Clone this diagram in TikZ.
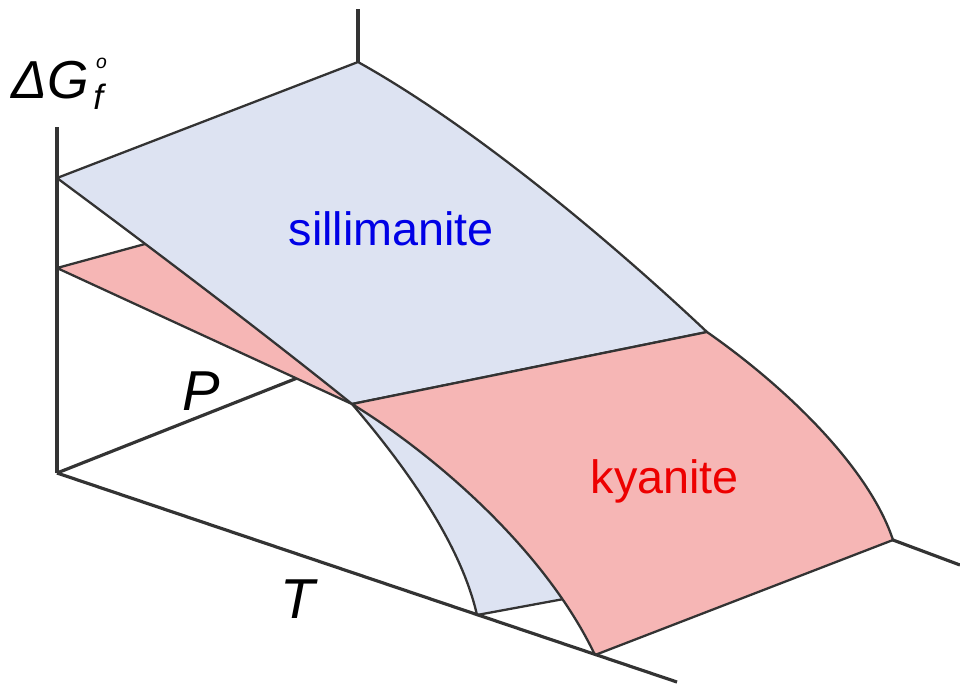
\documentclass[tikz,border=0pt]{standalone}
\usepackage{fontspec}
\setmainfont{Liberation Sans}
\definecolor{sillfill}{RGB}{221,227,242}
\definecolor{kyanfill}{RGB}{246,182,181}
\definecolor{linegray}{RGB}{51,51,51}
\definecolor{silltext}{RGB}{0,0,230}
\definecolor{kyantext}{RGB}{237,0,0}
\begin{document}
\begin{tikzpicture}[x=0.01cm,y=-0.01cm,
    axis/.style={linegray,line width=0.9pt},
    edge/.style={linegray,line width=0.65pt,line join=round},
    axlabel/.style={inner sep=0pt,anchor=base west,font=\fontsize{16}{16}\selectfont\itshape},
    mineral/.style={inner sep=0pt,anchor=base west,font=\fontsize{13.3}{13.3}\selectfont}]
    \useasboundingbox (0,0) rectangle (960,684);
    % corners of the box and the surfaces
    \coordinate (O) at (57,473);
    \coordinate (Pb) at (358,354);
    \coordinate (S0) at (57,178);
    \coordinate (S1) at (358,62);
    \coordinate (S2) at (707,332);
    \coordinate (Sb) at (477,615);
    \coordinate (K0) at (57,268);
    \coordinate (K2) at (893,540);
    \coordinate (K3) at (595,655);
    \coordinate (J) at (352,404);
    % back axes (mostly hidden by the surfaces)
    \draw[axis] (O) -- (Pb);
    \draw[axis] (Pb) -- (358,9);
    \draw[axis] (Pb) -- (K2) -- (960,565);
    % kyanite, thin strip near the G axis
    \filldraw[edge,fill=kyanfill] (K0) -- (200,229) -- (J) -- cycle;
    % sillimanite, upper part
    \filldraw[edge,fill=sillfill] (S0) -- (S1) .. controls (480,130) and (620,250) .. (S2)
        -- (J) .. controls (260,330) and (150,247) .. (S0) -- cycle;
    % sillimanite, lower part (runs on under kyanite)
    \filldraw[edge,fill=sillfill] (J) .. controls (400,460) and (460,540) .. (Sb)
        -- (580,596) -- (560,480) -- cycle;
    % kyanite, main part
    \filldraw[edge,fill=kyanfill] (J) -- (S2) .. controls (790,390) and (870,470) .. (K2)
        -- (K3) .. controls (545,550) and (435,455) .. (J) -- cycle;
    % front axes
    \draw[axis] (O) -- (57,127);
    \draw[axis] (O) -- (677,682);
    % labels
    \node[inner sep=0pt,anchor=base west] (glabel) at (11,98)
        {\fontsize{15.2}{15.2}\selectfont\itshape ΔG\kern1.2pt\rlap{\raisebox{8.5pt}{\kern0.8pt\fontsize{5.5}{5.5}\selectfont o}}\raisebox{-3.4pt}{\fontsize{10}{10}\selectfont f}};
    \node[axlabel] (plabel) at (182,410) {P};
    \node[axlabel] (tlabel) at (280,618) {T};
    \node[mineral,text=silltext] (sill) at (288,245) {sillimanite};
    \node[mineral,text=kyantext] (kyan) at (590,493) {kyanite};
\end{tikzpicture}
\end{document}
